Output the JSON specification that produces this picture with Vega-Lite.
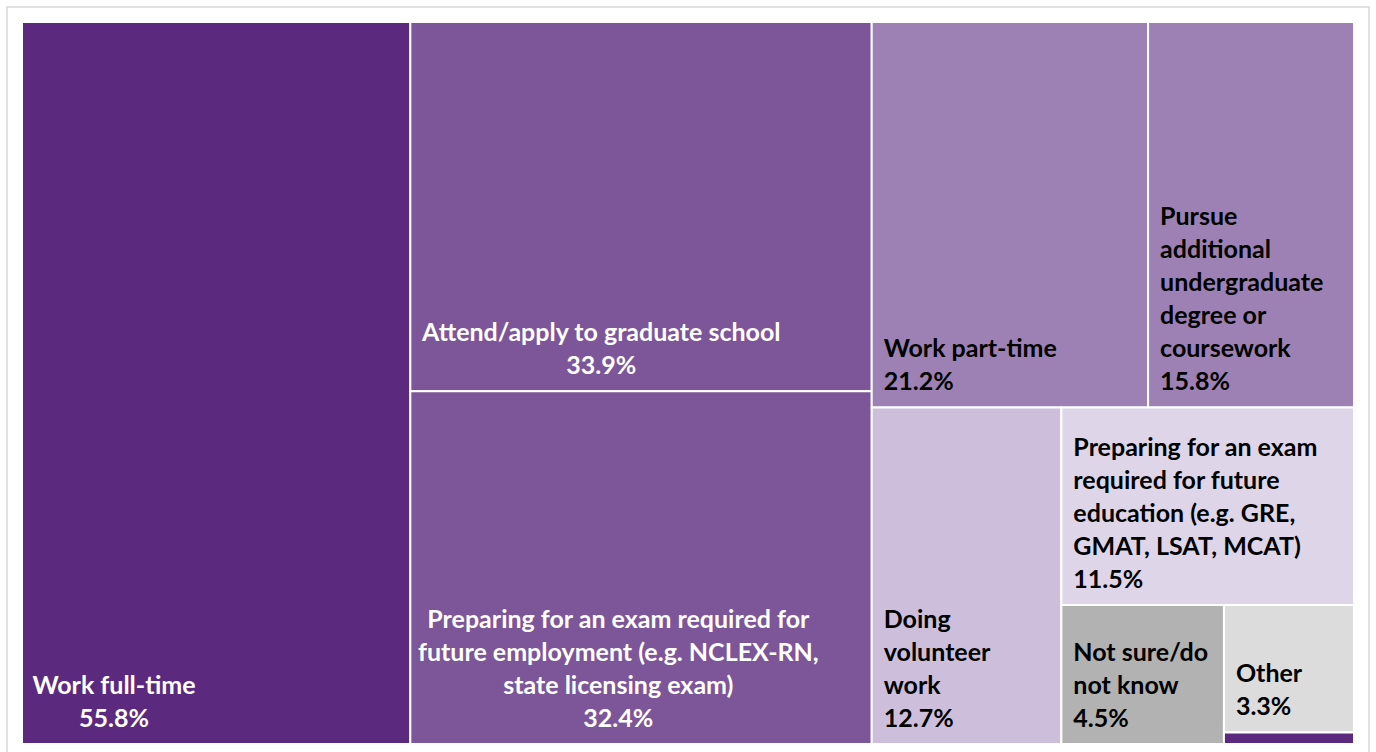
{
  "$schema": "https://vega.github.io/schema/vega-lite/v6.json",
  "width": 1362,
  "height": 747,
  "autosize": "none",
  "padding": {"left": 7, "top": 7, "right": 7, "bottom": -2},
  "background": "white",
  "config": {"view": {"stroke": "#d9d9d9", "strokeWidth": 1.5}},
  "data": {
    "values": [
      {"category": "Work full-time", "label": "Work full-time", "pct": 55.8, "x0": 0, "x1": 55.8, "y0": 0, "y1": 100},
      {"category": "Attend/apply to graduate school", "label": "Attend/apply to graduate school", "pct": 33.9, "x0": 55.8, "x1": 122.1, "y0": 0, "y1": 51.13},
      {"category": "Preparing for an exam required for future employment (e.g. NCLEX-RN, state licensing exam)", "label": "Preparing for an exam required for\nfuture employment (e.g. NCLEX-RN,\nstate licensing exam)", "pct": 32.4, "x0": 55.8, "x1": 122.1, "y0": 51.13, "y1": 100},
      {"category": "Work part-time", "label": "Work part-time", "pct": 21.2, "x0": 122.1, "x1": 161.81, "y0": 0, "y1": 53.39},
      {"category": "Pursue additional undergraduate degree or coursework", "label": "Pursue\nadditional\nundergraduate\ndegree or\ncoursework", "pct": 15.8, "x0": 161.81, "x1": 191.4, "y0": 0, "y1": 53.39},
      {"category": "Doing volunteer work", "label": "Doing\nvolunteer\nwork", "pct": 12.7, "x0": 122.1, "x1": 149.35, "y0": 53.39, "y1": 100},
      {"category": "Preparing for an exam required for future education (e.g. GRE, GMAT, LSAT, MCAT)", "label": "Preparing for an exam\nrequired for future\neducation (e.g. GRE,\nGMAT, LSAT, MCAT)", "pct": 11.5, "x0": 149.35, "x1": 191.4, "y0": 53.39, "y1": 80.74},
      {"category": "Not sure/do not know", "label": "Not sure/do\nnot know", "pct": 4.5, "x0": 149.35, "x1": 172.71, "y0": 80.74, "y1": 100},
      {"category": "Other", "label": "Other", "pct": 3.3, "x0": 172.71, "x1": 191.4, "y0": 80.74, "y1": 98.39},
      {"category": "Unlabelled", "label": "", "pct": 0.3, "x0": 172.71, "x1": 191.4, "y0": 98.39, "y1": 100}
    ]
  },
  "transform": [
    {"calculate": "reverse(split(datum.label + '\\n' + format(datum.pct, '.1f') + '%', '\\n'))", "as": "lines"}
  ],
  "layer": [
    {
      "mark": {"type": "rect", "stroke": "white", "strokeWidth": 2},
      "encoding": {
        "x": {"field": "x0", "type": "quantitative", "scale": {"domain": [-2.1554, 193.5552], "nice": false, "zero": false}, "axis": null},
        "x2": {"field": "x1"},
        "y": {"field": "y0", "type": "quantitative", "scale": {"domain": [-2.0776, 101.385], "nice": false, "zero": false, "reverse": true}, "axis": null},
        "y2": {"field": "y1"},
        "color": {
          "field": "category", "type": "nominal", "legend": null,
          "scale": {
            "domain": ["Work full-time", "Attend/apply to graduate school", "Preparing for an exam required for future employment (e.g. NCLEX-RN, state licensing exam)", "Work part-time", "Pursue additional undergraduate degree or coursework", "Doing volunteer work", "Preparing for an exam required for future education (e.g. GRE, GMAT, LSAT, MCAT)", "Not sure/do not know", "Other", "Unlabelled"],
            "range": ["#5b2a7e", "#7d5599", "#7d5599", "#9d81b4", "#9d81b4", "#cdbfdb", "#ded6e8", "#b2b2b2", "#dcdcdc", "#5b2a7e"]
          }
        }
      }
    },
    {
      "transform": [{"filter": "datum.pct > 1 && datum.pct < 30"}],
      "mark": {"type": "text", "align": "left", "baseline": "alphabetic", "dx": 12, "dy": -17, "font": "Lato", "fontWeight": "bold", "fontSize": 25, "lineHeight": -33, "color": "black"},
      "encoding": {
        "x": {"field": "x0", "type": "quantitative"},
        "y": {"field": "y1", "type": "quantitative"},
        "text": {"field": "lines"}
      }
    },
    {
      "transform": [{"filter": "datum.category == 'Work full-time'"}],
      "mark": {"type": "text", "align": "center", "baseline": "alphabetic", "dx": 92, "dy": -17, "font": "Lato", "fontWeight": "bold", "fontSize": 25, "lineHeight": -33, "color": "white"},
      "encoding": {
        "x": {"field": "x0", "type": "quantitative"},
        "y": {"field": "y1", "type": "quantitative"},
        "text": {"field": "lines"}
      }
    },
    {
      "transform": [{"filter": "datum.category == 'Attend/apply to graduate school'"}],
      "mark": {"type": "text", "align": "center", "baseline": "alphabetic", "dx": 191, "dy": -17, "font": "Lato", "fontWeight": "bold", "fontSize": 25, "lineHeight": -33, "color": "white"},
      "encoding": {
        "x": {"field": "x0", "type": "quantitative"},
        "y": {"field": "y1", "type": "quantitative"},
        "text": {"field": "lines"}
      }
    },
    {
      "transform": [{"filter": "indexof(datum.category, 'future employment') >= 0"}],
      "mark": {"type": "text", "align": "center", "baseline": "alphabetic", "dx": 208, "dy": -17, "font": "Lato", "fontWeight": "bold", "fontSize": 25, "lineHeight": -33, "color": "white"},
      "encoding": {
        "x": {"field": "x0", "type": "quantitative"},
        "y": {"field": "y1", "type": "quantitative"},
        "text": {"field": "lines"}
      }
    }
  ]
}
